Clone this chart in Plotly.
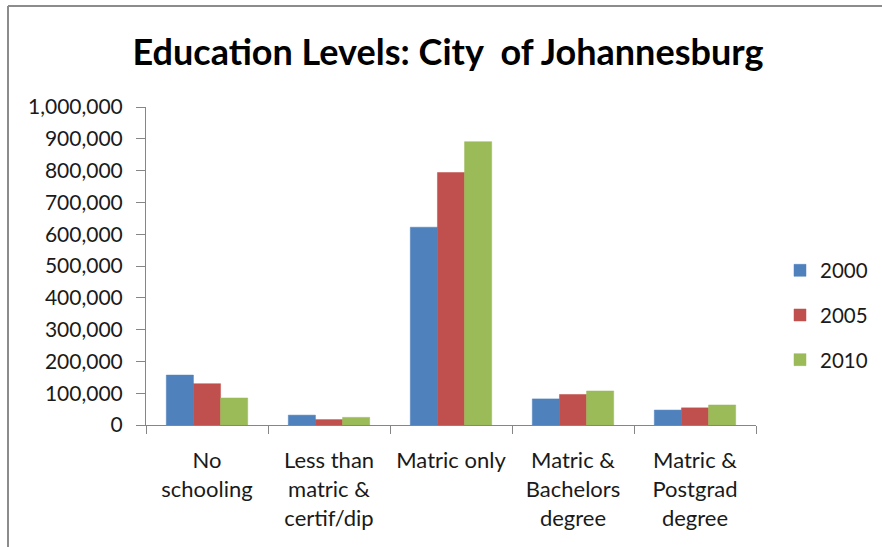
import plotly.graph_objects as go

# Education level categories (x axis)
categories = [
    "No<br>schooling",
    "Less than<br>matric &<br>certif/dip",
    "Matric only",
    "Matric &<br>Bachelors<br>degree",
    "Matric &<br>Postgrad<br>degree",
]

# Number of people per education level, by year
years = ["2000", "2005", "2010"]
values_2000 = [157000, 31000, 622000, 82000, 47000]
values_2005 = [130000, 17000, 794000, 96000, 54000]
values_2010 = [85000, 24000, 891000, 107000, 63000]

series = [values_2000, values_2005, values_2010]
colors = ["#4F81BD", "#C0504D", "#9BBB59"]

FONT = "Lato, Carlito, Calibri, sans-serif"
TEXT = "#1a1a1a"
AXIS = "#868686"

fig = go.Figure()
for year, vals, col in zip(years, series, colors):
    fig.add_trace(go.Bar(
        x=categories,
        y=vals,
        name=year,
        legendgroup=year,
        marker=dict(color=col, line=dict(color=col, width=0.5)),
    ))

W, H = 882, 547
L, R, T, B = 146, 126, 107, 122
plot_w = W - L - R
plot_h = H - T - B


def px_x(px):
    return (px - L) / plot_w


def px_y(py):
    return (H - B - py) / plot_h


fig.update_layout(
    width=W,
    height=H,
    margin=dict(l=L, r=R, t=T, b=B, pad=0, autoexpand=False),
    paper_bgcolor="white",
    plot_bgcolor="white",
    barmode="group",
    bargap=0.333,
    bargroupgap=0,
    font=dict(family=FONT, size=20, color=TEXT),
    title=dict(
        text="<b>Education Levels: City  of Johannesburg</b>",
        font=dict(family=FONT, size=36, color="#000000"),
        x=448 / W,
        xanchor="center",
        xref="container",
        y=1 - 52 / H,
        yanchor="middle",
        yref="container",
    ),
    showlegend=True,
    legend=dict(
        xref="container",
        yref="container",
        x=780 / W,
        xanchor="left",
        y=1 - 315 / H,
        yanchor="middle",
        traceorder="grouped",
        tracegroupgap=15,
        font=dict(family=FONT, size=20.5, color=TEXT),
        bgcolor="rgba(0,0,0,0)",
    ),
    xaxis=dict(
        type="category",
        showgrid=False,
        showline=True,
        linecolor=AXIS,
        linewidth=1,
        ticks="outside",
        tickson="boundaries",
        ticklen=8,
        tickcolor=AXIS,
        tickfont=dict(family=FONT, size=22, color=TEXT),
        ticklabelstandoff=16,
    ),
    yaxis=dict(
        range=[0, 1000000],
        dtick=100000,
        tickformat=",",
        showgrid=False,
        zeroline=False,
        showline=True,
        linecolor=AXIS,
        linewidth=1,
        ticks="outside",
        ticklen=9,
        tickcolor=AXIS,
        tickfont=dict(family=FONT, size=21, color=TEXT),
        ticklabelstandoff=9,
    ),
    shapes=[
        # outer chart frame (top and left edges)
        dict(type="line", xref="paper", yref="paper",
             x0=px_x(8), x1=px_x(W + 10), y0=px_y(6), y1=px_y(6),
             line=dict(color="#8c8c8c", width=2)),
        dict(type="line", xref="paper", yref="paper",
             x0=px_x(8), x1=px_x(8), y0=px_y(6), y1=px_y(H + 10),
             line=dict(color="#8c8c8c", width=2)),
    ],
)

fig.write_html("out.html")
